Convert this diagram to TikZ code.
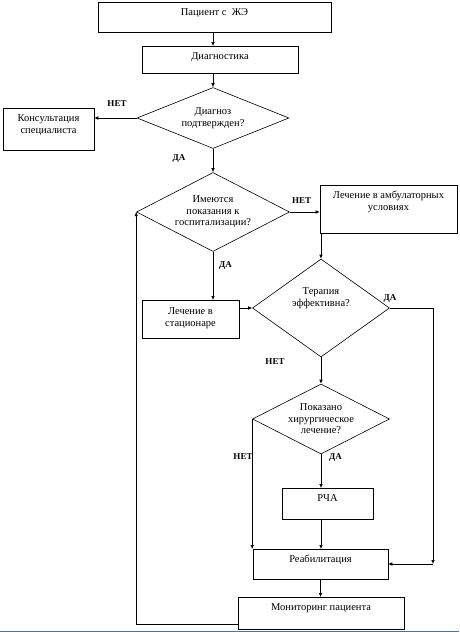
\documentclass[tikz,border=0pt]{standalone}
\usepackage{fontspec}
\setmainfont{Liberation Serif}
\usepackage{tikz}
\usetikzlibrary{shapes.geometric,arrows.meta}
\definecolor{liniya}{RGB}{74,112,170}

\begin{document}
\begin{tikzpicture}[x=1pt,y=-1pt,line width=0.6pt,
	blok/.style={draw,rectangle,inner xsep=2pt,inner ysep=0pt,text height=13pt,align=center,anchor=north,font=\fontsize{10.5}{11.8}\selectfont},
	romb/.style={draw,diamond,inner sep=0pt,aspect=2,align=center,font=\fontsize{10.5}{11.5}\selectfont},
	strelka/.style={-{Latex[length=4pt,width=3.5pt]}},
	metka/.style={font=\fontsize{9}{10}\selectfont\bfseries}]
			\useasboundingbox (0,0) rectangle (459,632);
			
			% blocks
			\node[blok,minimum width=233,text depth=17pt] (pat) at (214.5,2) {Пациент с\ \ ЖЭ};
			\node[blok,minimum width=156,text depth=14pt] (diag) at (220,46) {Диагностика};
			\node[romb,minimum width=152,minimum height=61] (d1) at (213,118) {Диагноз\\подтвержден?};
			\node[blok,minimum width=91,text height=25pt,text depth=17pt] (kons) at (48.5,108) {Консультация\\специалиста};
			\node[romb,minimum width=153,minimum height=79] (d2) at (213,212) {Имеются\\показания к\\госпитализации?};
			\node[blok,minimum width=137,text height=25pt,text depth=23pt] (ambu) at (388.5,185) {Лечение в амбулаторных\\условиях};
			\node[blok,minimum width=97,text height=26pt,text depth=12pt] (stac) at (190.5,300) {Лечение в\\стационаре};
			\node[romb,aspect=1.4,minimum width=137,minimum height=98,text height=21pt,text depth=25pt] (d3) at (321,308) {Терапия\\эффективна?};
			\node[romb,minimum width=137,minimum height=70] (d4) at (321,419) {Показано\\хирургическое\\лечение?};
			\node[blok,minimum width=91,text depth=18pt] (rcha) at (327.5,488) {РЧА};
			\node[blok,minimum width=135,text depth=17pt] (reab) at (320.5,549) {Реабилитация};
			\node[blok,minimum width=166,text depth=19pt] (mon) at (321,597) {Мониторинг пациента};
			\coordinate (pr) at (433,564);
			
			% arrows
			\draw[strelka] (d1 |- pat.south) -- (d1 |- diag.north);
			\draw[strelka] (d1 |- diag.south) -- (d1.north);
			\draw[strelka] (d1.west) -- (d1.west -| kons.east);
			\draw[strelka] (d1.south) -- (d2.north);
			\draw[strelka] (d2.east) -- (d2.east -| ambu.west);
			\draw[strelka] (d3.north |- ambu.south) -- (d3.north);
			\draw[strelka] (d2.south) -- (d2.south |- stac.north);
			\draw[strelka] (stac.east |- d3.west) -- (d3.west);
			\draw[strelka] (d3.east) -| (pr);
			\draw[strelka] (pr) -- (pr -| reab.east);
			\draw[strelka] (d3.south) -- (d4.north);
			\draw[strelka] (d4.west) -- (d4.west |- reab.north);
			\draw[strelka] (d4.south) -- (d4.south |- rcha.north);
			\draw[strelka] (d4.south |- rcha.south) -- (d4.south |- reab.north);
			\draw[strelka] (reab.south) -- (reab.south |- mon.north);
			\draw[strelka] ([yshift=5pt]mon.south west) -| (d2.west);
			
			% labels
			\node[metka] (net1) at (117,104) {НЕТ};
			\node[metka] (da1) at (179,158) {ДА};
			\node[metka] (net2) at (301.5,201) {НЕТ};
			\node[metka] (da2) at (225.5,265) {ДА};
			\node[metka] (da3) at (390,298) {ДА};
			\node[metka] (net3) at (275,362) {НЕТ};
			\node[metka] (net4) at (243,457) {НЕТ};
			\node[metka] (da4) at (335.5,457) {ДА};
			
			% page rule
			\draw[liniya,line width=1pt] (0,631) -- (459,631);
		\end{tikzpicture}
\end{document}
